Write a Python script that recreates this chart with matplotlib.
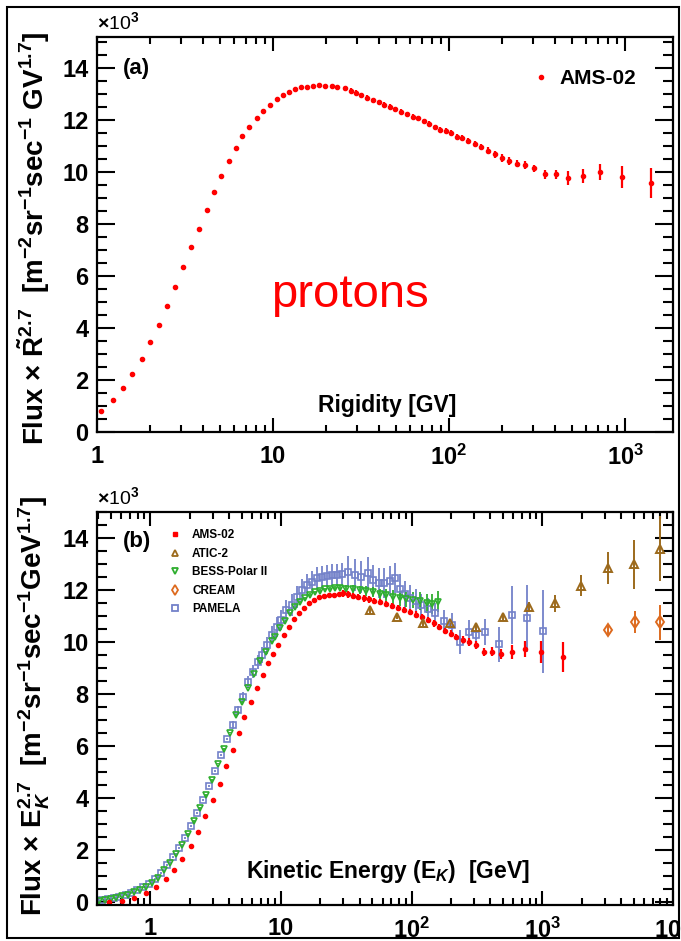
import numpy as np
import matplotlib
matplotlib.use('Agg')
import matplotlib.pyplot as plt
from matplotlib.ticker import LogLocator, FuncFormatter, NullFormatter, MultipleLocator
from matplotlib.lines import Line2D
from matplotlib.patches import Rectangle

plt.rcParams['font.family'] = ['Liberation Sans', 'DejaVu Sans']
plt.rcParams['font.weight'] = 'bold'
plt.rcParams['mathtext.fontset'] = 'custom'
plt.rcParams['mathtext.rm'] = 'Liberation Sans'
plt.rcParams['mathtext.it'] = 'Liberation Sans:italic'
plt.rcParams['mathtext.bf'] = 'Liberation Sans:bold'

# ---- panel (a): AMS-02 flux x R^2.7 vs rigidity (units of 1e3) ----
ams_r = [1.06, 1.23, 1.41, 1.59, 1.80, 2.01, 2.25, 2.51, 2.78, 3.09, 3.42,
         3.80, 4.20, 4.62, 5.06, 5.61, 6.14, 6.70, 7.35, 8.07, 8.80, 9.6,
         10.5, 11.4, 12.3, 13.3, 14.4, 15.6, 16.9, 18.3, 19.8, 21.6, 23.2,
         25.6, 27.6, 29.6, 31.8, 34.2, 36.9, 39.9, 42.7, 46.0, 49.5, 53.6,
         57.7, 62.0, 66.7, 72.0, 77.3, 83.3, 89.1, 95.9,
         103, 111, 119, 128, 140, 152, 166, 182, 199, 219, 242, 270, 304,
         350, 405, 476, 573, 721, 956, 1400]
ams_rflux = [0.81, 1.23, 1.70, 2.23, 2.81, 3.45, 4.13, 4.83, 5.58, 6.35, 7.10,
             7.83, 8.56, 9.24, 9.86, 10.41, 10.91, 11.38, 11.74, 12.10, 12.36, 12.60,
             12.80, 12.96, 13.09, 13.18, 13.26, 13.29, 13.32, 13.35, 13.33, 13.32, 13.29,
             13.22, 13.13, 13.05, 12.95, 12.86, 12.77, 12.68, 12.60, 12.51, 12.41, 12.32,
             12.23, 12.14, 12.07, 11.95, 11.87, 11.73, 11.64, 11.58,
             11.51, 11.35, 11.32, 11.19, 11.07, 10.96, 10.83, 10.69, 10.54, 10.43, 10.33, 10.27, 10.14,
             9.91, 9.91, 9.78, 9.85, 10.0, 9.82, 9.59]
ams_rerr = [0.07] * 33 + [0.1] * 19 + [0.12] * 6 + [0.14] * 7 + \
           [0.18, 0.19, 0.26, 0.26, 0.32, 0.42, 0.57]

# ---- panel (b): flux x Ek^2.7 vs kinetic energy ----
ams_e = [0.48, 0.61, 0.75, 0.92, 1.10, 1.31, 1.52, 1.76, 2.03, 2.32, 2.64, 3.01,
         3.40, 3.80, 4.28, 4.76, 5.25, 5.9, 6.52, 7.24, 7.92, 8.74, 9.53, 10.5,
         11.6, 12.6, 13.8, 15.1, 16.4, 17.9, 19.5, 21.3, 23.2, 25.3, 27.8,
         29.8, 32.6, 35.7, 38.9, 42.9, 47.2, 51.9, 57.6, 64.0, 71.2,
         79.1, 87.9, 97.8, 108.5, 120, 133, 147, 162, 180, 200,
         220, 245, 277, 311, 357, 409, 482, 582, 735, 980, 1430]
ams_eflux = [0.03, 0.05, 0.18, 0.36, 0.59, 0.88, 1.26, 1.68, 2.15, 2.70, 3.31, 3.92,
             4.56, 5.23, 5.87, 6.49, 7.13, 7.70, 8.22, 8.73, 9.18, 9.56, 9.88, 10.27,
             10.59, 10.88, 11.10, 11.32, 11.49, 11.62, 11.72, 11.78, 11.81, 11.81, 11.83,
             11.87, 11.83, 11.78, 11.74, 11.68, 11.64, 11.58, 11.53, 11.46, 11.40,
             11.32, 11.23, 11.15, 11.06, 10.97, 10.85, 10.72, 10.59, 10.42, 10.33,
             10.20, 10.08, 10.01, 9.88, 9.63, 9.63, 9.54, 9.63, 9.73, 9.63, 9.44]
ams_eerr = [0.06] * 35 + [0.12] * 20 + [0.13, 0.14, 0.14, 0.15, 0.15, 0.17, 0.19,
                                        0.27, 0.32, 0.42, 0.58]

atic_e = [48, 77, 122, 197, 311, 497, 790, 1240, 1990, 3155, 5060, 7900]
atic_flux = [11.23, 10.97, 10.72, 10.73, 10.60, 10.97, 11.36, 11.49, 12.17, 12.86, 12.99, 13.58]
atic_err = [0.1, 0.1, 0.1, 0.12, 0.15, 0.15, 0.2, 0.32, 0.4, 0.62, 0.93, 1.25]

bess_e = [0.401, 0.446, 0.495, 0.550, 0.611, 0.679, 0.755, 0.839, 0.932, 1.036,
          1.151, 1.279, 1.421, 1.579, 1.755, 1.950, 2.167, 2.408, 2.676, 2.973,
          3.304, 3.671, 4.079, 4.533, 5.037, 5.597, 6.219, 6.910, 7.679, 8.533,
          9.0, 9.84, 10.7, 11.7, 12.8, 14.0, 15.3, 16.7, 18.2, 19.9, 21.7, 23.7, 25.8,
          28.2, 31.6, 35.5, 40, 44.8, 50.5, 56.8, 64, 72, 81, 91, 102, 115, 130, 142, 159]
bess_flux = [0.05, 0.08, 0.12, 0.17, 0.23, 0.30, 0.38, 0.48, 0.60, 0.75,
             0.95, 1.23, 1.53, 1.85, 2.20, 2.63, 3.12, 3.62, 4.13, 4.70,
             5.33, 5.90, 6.52, 7.19, 7.70, 8.25, 8.76, 9.27, 9.62, 10.03,
             10.2, 10.53, 10.8, 11.1, 11.36, 11.53, 11.68, 11.81, 11.91, 11.97, 12.03, 12.06, 12.09,
             12.09, 12.06, 12.04, 12.0, 11.96, 11.93, 11.83, 11.81, 11.74, 11.68, 11.64,
             11.62, 11.58, 11.49, 11.45, 11.55]
bess_err = [0.03] * 30 + [0.06] * 13 + [0.12, 0.14, 0.15, 0.17, 0.18, 0.2, 0.22,
                                       0.24, 0.26, 0.28, 0.3, 0.32, 0.34, 0.36, 0.38, 0.4]

cream_e = [3210, 5130, 8000]
cream_flux = [10.46, 10.76, 10.76]
cream_err = [0.16, 0.42, 0.67]

pamela_e = [0.423, 0.470, 0.522, 0.580, 0.645, 0.716, 0.796, 0.884, 0.983, 1.092,
            1.213, 1.348, 1.498, 1.664, 1.849, 2.055, 2.283, 2.537, 2.819, 3.13,
            3.48, 3.87, 4.28, 4.72, 5.15, 5.63, 6.14, 6.7, 7.1, 7.8, 8.5, 9.27, 10.0,
            11.0, 12.1, 13.2, 14.4, 15.8, 17.3, 18.9, 20.7, 22.5, 24.6, 26.9, 29.3,
            32.5, 37, 41, 46.4, 50.5, 56.5, 61.6, 67.9, 74, 81, 88.5, 96.5, 107, 118,
            133, 151, 178, 204, 235, 273, 311, 362, 463, 583, 760, 1010]
pamela_flux = [0.08, 0.12, 0.16, 0.22, 0.29, 0.37, 0.46, 0.58, 0.72, 0.90,
               1.12, 1.42, 1.74, 2.08, 2.47, 2.92, 3.42, 3.93, 4.47, 5.06,
               5.68, 6.28, 6.81, 7.38, 7.90, 8.47, 8.86, 9.24, 9.5, 9.88, 10.27, 10.59, 10.85,
               11.23, 11.42, 11.74, 12.0, 12.19, 12.32, 12.45, 12.51, 12.55, 12.58, 12.58, 12.60,
               12.70, 12.58, 12.50, 12.64, 12.38, 12.26, 12.26, 12.35, 12.45, 12.06, 11.83, 11.70,
               11.58, 11.42, 11.29, 11.10, 10.80, 10.65, 10.01, 10.40, 10.27, 10.40, 9.92,
               11.04, 10.91, 10.42]
pamela_err = [0.04] * 22 + [0.15, 0.18, 0.2, 0.22, 0.25, 0.28, 0.3, 0.32, 0.35, 0.38, 0.4,
                            0.4, 0.42, 0.42, 0.42, 0.42, 0.42, 0.42, 0.42, 0.42, 0.42, 0.42, 0.45,
                            0.6, 0.6, 0.6, 0.62, 0.6, 0.58, 0.58, 0.58, 0.58, 0.55, 0.5, 0.48,
                            0.45, 0.42, 0.42, 0.42, 0.45, 0.45, 0.45, 0.45, 0.45, 0.5, 0.67,
                            1.1, 1.3, 1.6]

RED = '#ff0000'
ATIC_C = '#9c6a1c'
BESS_C = '#2fae2f'
CREAM_C = '#dd6a1e'
PAM_C = '#7381c9'


def log_fmt(v, pos):
    if v < 0.5:
        return ''
    k = int(round(np.log10(v)))
    if k == 0:
        return '1'
    if k == 1:
        return '10'
    return r'10$^{%d}$' % k


def style_axes(ax):
    ax.set_xscale('log')
    ax.xaxis.set_major_locator(LogLocator(base=10))
    ax.xaxis.set_minor_locator(LogLocator(base=10, subs=np.arange(2, 10)))
    ax.xaxis.set_major_formatter(FuncFormatter(log_fmt))
    ax.xaxis.set_minor_formatter(NullFormatter())
    ax.yaxis.set_major_locator(MultipleLocator(2))
    ax.yaxis.set_minor_locator(MultipleLocator(0.5))
    ax.tick_params(which='both', direction='in', top=True, right=True, width=1.5,
                   labelsize=17)
    ax.tick_params(axis='y', which='major', length=13, pad=6)
    ax.tick_params(axis='y', which='minor', length=7)
    ax.tick_params(axis='x', which='major', length=10, pad=9)
    ax.tick_params(axis='x', which='minor', length=5)
    for s in ax.spines.values():
        s.set_linewidth(1.6)


fig = plt.figure(figsize=(6.81, 9.41), dpi=100)
fig.patches.append(Rectangle((0.0103, 0.0032), 0.9867, 0.9894, transform=fig.transFigure,
                             fill=False, edgecolor='black', linewidth=1.5))

# panel (a)
ax1 = fig.add_axes([0.1424, 0.5409, 0.8458, 0.4198])
style_axes(ax1)
ax1.errorbar(ams_r, ams_rflux, yerr=ams_rerr, fmt='o', color=RED, ms=3,
             elinewidth=1.6, capsize=0)
ax1.set_xlim(1, 1870)
ax1.set_ylim(0, 15.2)
ax1.text(0.045, 0.92, '(a)', transform=ax1.transAxes, fontsize=16, va='center')
ax1.text(0.503, 0.068, 'Rigidity [GV]', transform=ax1.transAxes, fontsize=16.5,
         ha='center', va='center')
ax1.text(0.439, 0.347, 'protons', transform=ax1.transAxes, fontsize=34, color=RED,
         fontweight='normal', ha='center', va='center')
ax1.text(0.0, 1.01, r'$\times$10$^{3}$', transform=ax1.transAxes, fontsize=14,
         fontweight='normal', ha='left', va='bottom')
h_a = [Line2D([], [], ls='none', marker='o', ms=3, color=RED)]
ax1.legend(h_a, ['AMS-02'], loc='center left', bbox_to_anchor=(0.752, 0.894),
           frameon=False, fontsize=15, handlelength=1.0, handletextpad=0.4,
           borderpad=0, borderaxespad=0)

# panel (b)
ax2 = fig.add_axes([0.1424, 0.0383, 0.8458, 0.4176])
style_axes(ax2)
ax2.errorbar(pamela_e, pamela_flux, yerr=pamela_err, fmt='s', mfc='none', mec=PAM_C,
             color=PAM_C, ms=5, mew=1.2, elinewidth=1.3, capsize=0)
ax2.errorbar(bess_e, bess_flux, yerr=bess_err, fmt='v', mfc='none', mec=BESS_C,
             color=BESS_C, ms=5, mew=1.2, elinewidth=1.3, capsize=0)
ax2.errorbar(ams_e, ams_eflux, yerr=ams_eerr, fmt='o', color=RED, ms=3,
             elinewidth=1.6, capsize=0)
ax2.errorbar(atic_e, atic_flux, yerr=atic_err, fmt='^', mfc='none', mec=ATIC_C,
             color=ATIC_C, ms=6, mew=1.4, elinewidth=1.4, capsize=0)
ax2.errorbar(cream_e, cream_flux, yerr=cream_err, fmt='d', mfc='none', mec=CREAM_C,
             color=CREAM_C, ms=6, mew=1.4, elinewidth=1.4, capsize=0)
ax2.set_xlim(0.39, 1e4)
ax2.set_ylim(-0.1, 15.0)
ax2.text(0.045, 0.924, '(b)', transform=ax2.transAxes, fontsize=16, va='center')
ax2.text(0.505, 0.084, r'Kinetic Energy ($\mathbf{E}_{K}$)  [GeV]', transform=ax2.transAxes,
         fontsize=16.5, ha='center', va='center')
ax2.text(0.0, 1.01, r'$\times$10$^{3}$', transform=ax2.transAxes, fontsize=14,
         fontweight='normal', ha='left', va='bottom')
h_b = [Line2D([], [], ls='none', marker='s', ms=3, color=RED),
       Line2D([], [], ls='none', marker='^', ms=5, mfc='none', mec=ATIC_C, mew=1.3),
       Line2D([], [], ls='none', marker='v', ms=5, mfc='none', mec=BESS_C, mew=1.3),
       Line2D([], [], ls='none', marker='d', ms=5, mfc='none', mec=CREAM_C, mew=1.3),
       Line2D([], [], ls='none', marker='s', ms=5, mfc='none', mec=PAM_C, mew=1.3)]
ax2.legend(h_b, ['AMS-02', 'ATIC-2', 'BESS-Polar II', 'CREAM', 'PAMELA'],
           loc='upper left', bbox_to_anchor=(0.123, 0.956), frameon=False,
           fontsize=8.5, handlelength=1.2, handletextpad=0.85, labelspacing=0.55,
           borderpad=0, borderaxespad=0)

fig.text(0.05, 0.747,
         r'Flux $\times$ $\tilde{\mathbf{R}}^{2.7}$  [m$^{-2}$sr$^{-1}$sec$^{-1}$ GV$^{1.7}$]',
         rotation=90, fontsize=20, ha='center', va='center')
fig.text(0.05, 0.25,
         r'Flux $\times$ $\mathbf{E}_{K}^{2.7}$  [m$^{-2}$sr$^{-1}$sec$^{-1}$GeV$^{1.7}$]',
         rotation=90, fontsize=20, ha='center', va='center')

fig.savefig('out.png', dpi=100)
